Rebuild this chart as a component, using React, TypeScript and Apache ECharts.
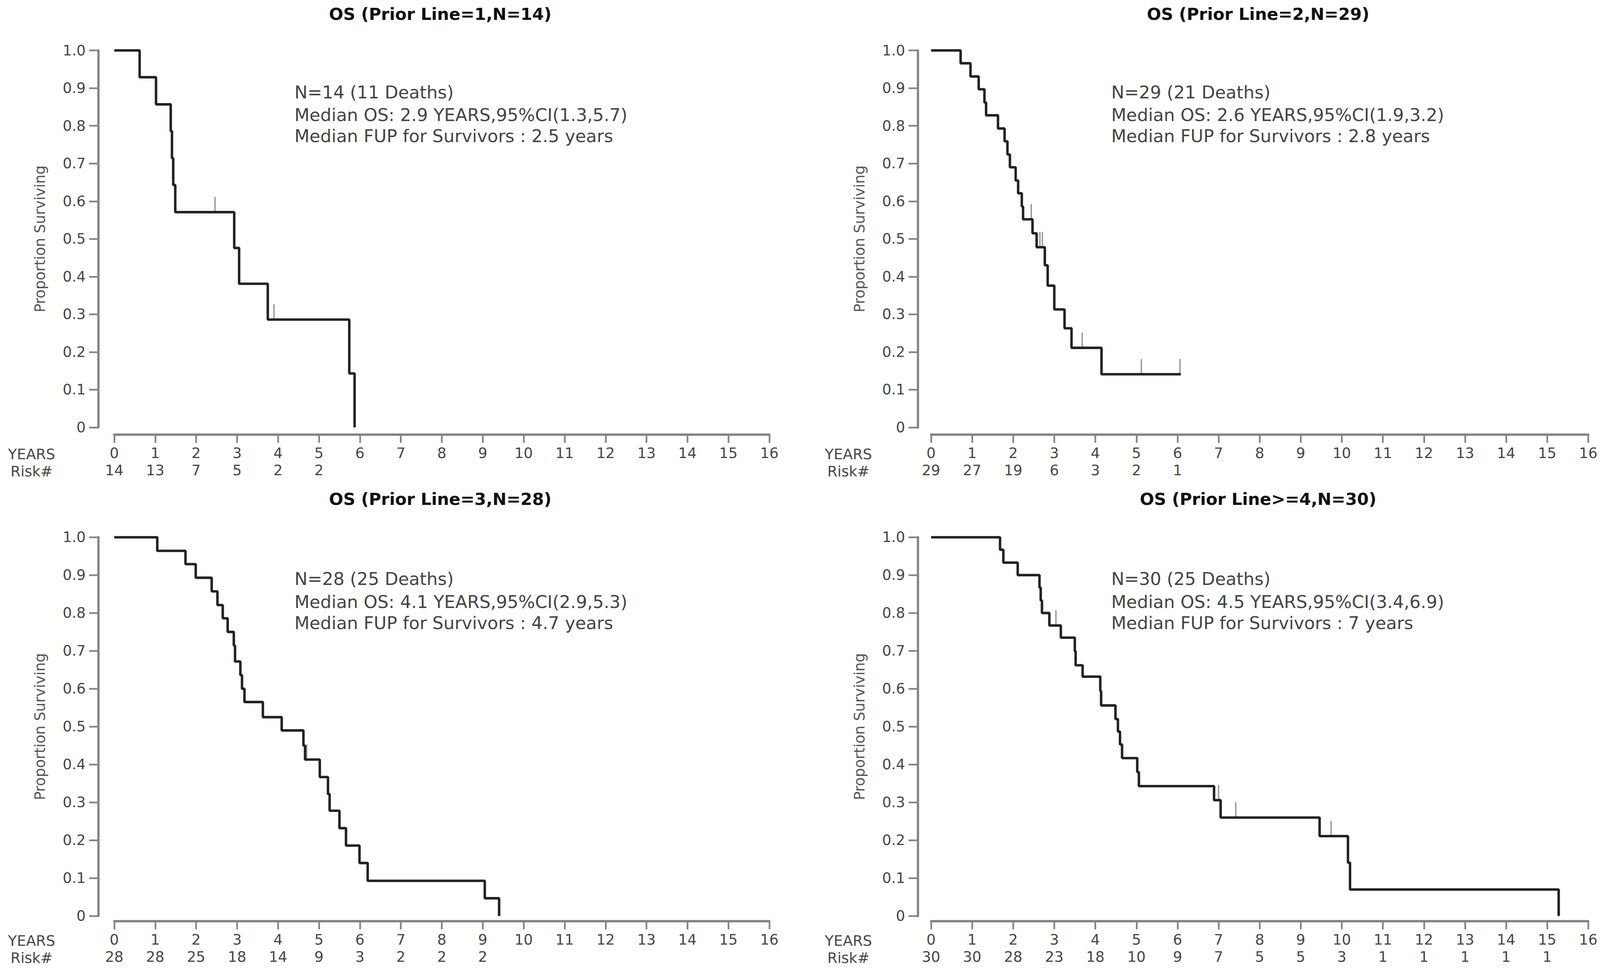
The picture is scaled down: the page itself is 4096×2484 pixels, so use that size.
import React, { useEffect, useRef } from "react";
import * as echarts from "echarts";

const S = 0.975;
const FONT = "DejaVu Sans";

const yearTicks = [0, 1, 2, 3, 4, 5, 6, 7, 8, 9, 10, 11, 12, 13, 14, 15, 16];

const titles = [
  "OS (Prior Line=1,N=14)",
  "OS (Prior Line=2,N=29)",
  "OS (Prior Line=3,N=28)",
  "OS (Prior Line>=4,N=30)",
];

const notes = [
  ["N=14 (11 Deaths)", "Median OS: 2.9 YEARS,95%CI(1.3,5.7)", "Median FUP for Survivors : 2.5 years"],
  ["N=29 (21 Deaths)", "Median OS: 2.6 YEARS,95%CI(1.9,3.2)", "Median FUP for Survivors : 2.8 years"],
  ["N=28 (25 Deaths)", "Median OS: 4.1 YEARS,95%CI(2.9,5.3)", "Median FUP for Survivors : 4.7 years"],
  ["N=30 (25 Deaths)", "Median OS: 4.5 YEARS,95%CI(3.4,6.9)", "Median FUP for Survivors : 7 years"],
];

// Panel 1
const p1Times = [0, 0.62, 1.02, 1.38, 1.41, 1.44, 1.49, 2.93, 3.05, 3.75, 5.74, 5.87];
const p1Surv = [1, 0.929, 0.857, 0.786, 0.714, 0.643, 0.571, 0.476, 0.381, 0.286, 0.143, 0];
const p1CensorT = [2.46, 3.9];
const p1CensorS = [0.571, 0.286];
const p1Risk = [14, 13, 7, 5, 2, 2];

// Panel 2
const p2Times = [0, 0.72, 0.96, 1.16, 1.30, 1.34, 1.63, 1.79, 1.86, 1.92, 2.06, 2.12, 2.21, 2.24, 2.47, 2.57, 2.77, 2.84, 3.0, 3.25, 3.42, 4.15, 6.08];
const p2Surv = [1, 0.966, 0.931, 0.897, 0.862, 0.828, 0.793, 0.759, 0.724, 0.69, 0.655, 0.621, 0.586, 0.552, 0.515, 0.478, 0.43, 0.376, 0.313, 0.263, 0.211, 0.141, 0.141];
const p2CensorT = [2.44, 2.65, 2.71, 3.68, 5.12, 6.06];
const p2CensorS = [0.552, 0.478, 0.478, 0.211, 0.141, 0.141];
const p2Risk = [29, 27, 19, 6, 3, 2, 1];

// Panel 3
const p3Times = [0, 1.05, 1.74, 1.99, 2.38, 2.52, 2.65, 2.77, 2.92, 2.95, 3.08, 3.12, 3.18, 3.63, 4.09, 4.62, 4.66, 5.02, 5.22, 5.26, 5.5, 5.66, 5.99, 6.19, 9.05, 9.4];
const p3Surv = [1, 0.964, 0.929, 0.893, 0.857, 0.821, 0.786, 0.75, 0.714, 0.672, 0.636, 0.6, 0.565, 0.525, 0.49, 0.45, 0.413, 0.367, 0.322, 0.278, 0.232, 0.186, 0.14, 0.093, 0.047, 0];
const p3CensorT = [4.7];
const p3CensorS = [0.413];
const p3Risk = [28, 28, 25, 18, 14, 9, 3, 2, 2, 2];

// Panel 4
const p4Times = [0, 1.68, 1.76, 2.11, 2.64, 2.67, 2.7, 2.88, 3.16, 3.5, 3.52, 3.69, 4.12, 4.14, 4.49, 4.55, 4.6, 4.65, 5.02, 5.06, 6.89, 7.05, 9.46, 10.15, 10.2, 15.28];
const p4Surv = [1, 0.967, 0.933, 0.9, 0.867, 0.833, 0.8, 0.767, 0.735, 0.699, 0.662, 0.632, 0.594, 0.556, 0.52, 0.487, 0.453, 0.417, 0.38, 0.343, 0.306, 0.26, 0.211, 0.141, 0.07, 0];
const p4CensorT = [3.04, 7.0, 7.42, 9.74];
const p4CensorS = [0.767, 0.306, 0.26, 0.211];
const p4Risk = [30, 30, 28, 23, 18, 10, 9, 7, 5, 5, 3, 1, 1, 1, 1, 1];

const panels = [
  { times: p1Times, surv: p1Surv, ct: p1CensorT, cs: p1CensorS, risk: p1Risk },
  { times: p2Times, surv: p2Surv, ct: p2CensorT, cs: p2CensorS, risk: p2Risk },
  { times: p3Times, surv: p3Surv, ct: p3CensorT, cs: p3CensorS, risk: p3Risk },
  { times: p4Times, surv: p4Surv, ct: p4CensorT, cs: p4CensorS, risk: p4Risk },
];

// layout (reference pixel units, scaled by S)
const colX0 = [300, 2444.6];
const colW = [1720, 1725.6];
const colYOff = [42, 35];
const rowTop = [132.5, 1411];
const rowH = [990, 995];
const rowXOff = [18.5, 13];

const AXIS = "#858585";
const LABEL = "#464646";

function buildOption() {
  const grid: any[] = [];
  const xAxis: any[] = [];
  const yAxis: any[] = [];
  const series: any[] = [];
  const graphic: any[] = [];

  panels.forEach((p, i) => {
    const col = i % 2;
    const row = Math.floor(i / 2);
    const left = colX0[col];
    const top = rowTop[row];
    grid.push({ left: left * S, top: top * S, width: colW[col] * S, height: rowH[row] * S, containLabel: false });

    const labelStyle = { fontSize: 38 * S, fontFamily: FONT, color: LABEL };
    xAxis.push({
      gridIndex: i,
      type: "value",
      min: 0,
      max: 16,
      interval: 1,
      position: "bottom",
      offset: rowXOff[row] * S,
      axisLine: { show: true, onZero: false, lineStyle: { color: AXIS, width: 6 * S } },
      axisTick: { show: true, inside: false, length: 22 * S, lineStyle: { color: AXIS, width: 4.5 * S } },
      axisLabel: { ...labelStyle, margin: 30 * S, formatter: (v: number) => String(Math.round(v)) },
      splitLine: { show: false },
    });
    xAxis.push({
      gridIndex: i,
      type: "value",
      min: 0,
      max: 16,
      interval: 1,
      position: "bottom",
      offset: (rowXOff[row] + 45) * S,
      axisLine: { show: false, onZero: false },
      axisTick: { show: false },
      axisLabel: {
        ...labelStyle,
        margin: 30 * S,
        formatter: (v: number) => {
          const r = p.risk[Math.round(v)];
          return r === undefined ? "" : String(r);
        },
      },
      splitLine: { show: false },
    });
    yAxis.push({
      gridIndex: i,
      type: "value",
      min: 0,
      max: 1,
      interval: 0.1,
      position: "left",
      offset: colYOff[col] * S,
      name: "Proportion Surviving",
      nameLocation: "middle",
      nameRotate: 90,
      nameGap: 134 * S,
      nameTextStyle: { fontSize: 38 * S, fontFamily: FONT, color: "#555555" },
      axisLine: { show: true, onZero: false, lineStyle: { color: AXIS, width: 6 * S } },
      axisTick: { show: true, inside: false, length: 24 * S, lineStyle: { color: AXIS, width: 4.5 * S } },
      axisLabel: {
        ...labelStyle,
        margin: 33 * S,
        formatter: (v: number) => (Math.abs(v) < 1e-9 ? "0" : v.toFixed(1)),
      },
      splitLine: { show: false },
    });

    series.push({
      type: "line",
      xAxisIndex: 2 * i,
      yAxisIndex: i,
      step: "end",
      data: p.times.map((t, k) => [t, p.surv[k]]),
      showSymbol: false,
      symbol: "none",
      silent: true,
      lineStyle: { color: "#222222", width: 6.5 * S },
    });
    series.push({
      type: "scatter",
      xAxisIndex: 2 * i,
      yAxisIndex: i,
      data: p.ct.map((t, k) => [t, p.cs[k]]),
      symbol: "rect",
      symbolSize: [3.5 * S, 40 * S],
      symbolOffset: [0, -20 * S],
      silent: true,
      itemStyle: { color: "#7a7a7a" },
    });

    const gridCenter = left + colW[col] / 2;
    graphic.push({
      type: "text",
      x: (gridCenter - 4) * S,
      y: (row === 0 ? 36.5 : 1311) * S,
      style: {
        text: titles[i],
        fontSize: 44 * S,
        fontWeight: "bold",
        fontFamily: FONT,
        fill: "#111111",
        align: "center",
        verticalAlign: "middle",
        textAlign: "center",
        textVerticalAlign: "middle",
      },
    });
    const noteOff = [110, 170, 225];
    notes[i].forEach((line, k) => {
      graphic.push({
        type: "text",
        x: (left + 473) * S,
        y: (top + noteOff[k]) * S,
        style: {
          text: line,
          fontSize: 46 * S,
          fontFamily: FONT,
          fill: "#444444",
          align: "left",
          verticalAlign: "middle",
          textAlign: "left",
          textVerticalAlign: "middle",
        },
      });
    });
    const axisY = top + rowH[row] + rowXOff[row];
    [["YEARS", 52], ["Risk#", 97]].forEach(([txt, dy]) => {
      graphic.push({
        type: "text",
        x: (left - 217) * S,
        y: (axisY + (dy as number)) * S,
        style: {
          text: txt as string,
          fontSize: 38 * S,
          fontFamily: FONT,
          fill: LABEL,
          align: "center",
          verticalAlign: "middle",
          textAlign: "center",
          textVerticalAlign: "middle",
        },
      });
    });
  });

  return {
    animation: false,
    backgroundColor: "#ffffff",
    grid,
    xAxis,
    yAxis,
    series,
    graphic,
  };
}

export default function App() {
  const ref = useRef<HTMLDivElement>(null);
  useEffect(() => {
    if (!ref.current) return;
    const chart = echarts.init(ref.current, undefined, { renderer: "svg" });
    chart.setOption(buildOption() as any);
    return () => chart.dispose();
  }, []);
  return (
    <div
      ref={ref}
      style={{ position: "fixed", left: 0, top: 0, width: "4096px", height: "2484px", background: "#fff" }}
    />
  );
}
